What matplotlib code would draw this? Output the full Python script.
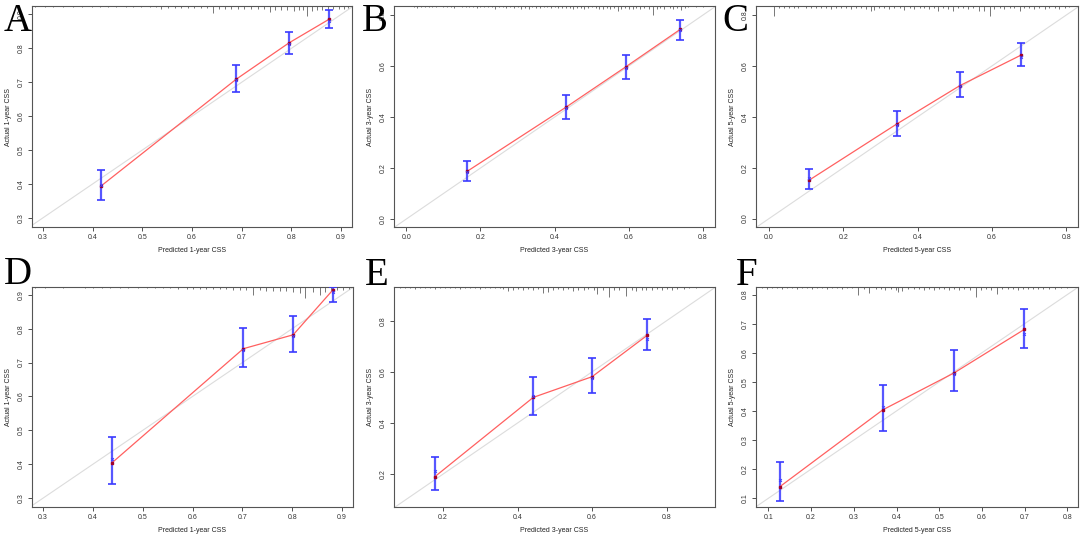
import matplotlib
matplotlib.use("Agg")
import matplotlib.pyplot as plt
import matplotlib.transforms as mtransforms

plt.rcParams['font.family'] = ['Liberation Sans', 'DejaVu Sans']

# ---- panel A: training, 1-year ----
a_pred = [0.417, 0.689, 0.795, 0.876]
a_obs = [0.394, 0.709, 0.816, 0.886]
a_lo = [0.352, 0.672, 0.783, 0.860]
a_hi = [0.440, 0.751, 0.849, 0.914]
a_corr = [0.398, 0.706, 0.812, 0.882]
a_rug_x = [0.285, 0.305, 0.321, 0.341, 0.361, 0.378, 0.398, 0.415, 0.431, 0.448, 0.468,
           0.481, 0.498, 0.515, 0.528, 0.537, 0.551, 0.565, 0.578, 0.591, 0.605, 0.618,
           0.630, 0.642, 0.655, 0.667, 0.678, 0.692, 0.705, 0.718, 0.732, 0.745, 0.756,
           0.768, 0.780, 0.792, 0.805, 0.815, 0.824, 0.832, 0.842, 0.852, 0.862, 0.874,
           0.884, 0.895, 0.906, 0.914]
a_rug_len = [1, 1, 1, 1, 1, 1, 1, 1, 1, 1, 1,
             1, 1, 1, 1, 3, 1.5, 1.5, 1.5, 1.5, 2, 2,
             2, 7, 2.5, 3, 3, 3, 3, 3, 3, 3, 6,
             4, 4, 4, 5, 4, 4, 10, 5, 4, 4, 4,
             3, 3, 3, 2]

# ---- panel B: training, 3-year ----
b_pred = [0.164, 0.430, 0.591, 0.738]
b_obs = [0.187, 0.438, 0.596, 0.743]
b_lo = [0.150, 0.392, 0.550, 0.703]
b_hi = [0.229, 0.488, 0.642, 0.782]
b_corr = [0.184, 0.436, 0.594, 0.740]
b_rug_x = [0.02, 0.03, 0.04, 0.05, 0.06, 0.07, 0.08, 0.10, 0.11, 0.12, 0.13, 0.15, 0.16,
           0.17, 0.18, 0.19, 0.20, 0.21, 0.22, 0.23, 0.24, 0.25, 0.26, 0.27, 0.28, 0.29,
           0.30, 0.31, 0.32, 0.33, 0.34, 0.35, 0.36, 0.37, 0.38, 0.39, 0.40, 0.41, 0.42,
           0.43, 0.44, 0.45, 0.46, 0.47, 0.48, 0.49, 0.50, 0.51, 0.52, 0.53, 0.54, 0.55,
           0.56, 0.57, 0.58, 0.59, 0.60, 0.61, 0.62, 0.63, 0.64, 0.655, 0.665, 0.675,
           0.685, 0.695, 0.71, 0.72, 0.73, 0.74, 0.75, 0.76, 0.78, 0.80]
b_rug_len = [1, 1.5, 1, 1, 1, 1, 1, 1, 1, 1, 1.5, 1, 1,
             1, 1, 1.5, 1, 1, 1, 1, 3, 1, 1, 1.5, 1, 2,
             1, 3, 2, 3, 1, 2, 1.5, 1, 1, 1.5, 1, 2, 1.5,
             2, 1.5, 3, 2, 2, 3, 2, 1, 2, 3, 3, 2, 3,
             2, 5, 3, 2, 3, 3, 2, 3, 2, 3, 9, 3,
             2, 3, 2, 3, 1.5, 4, 2, 1, 1, 1]

# ---- panel C: training, 5-year ----
c_pred = [0.108, 0.343, 0.513, 0.679]
c_obs = [0.151, 0.371, 0.522, 0.643]
c_lo = [0.117, 0.324, 0.478, 0.598]
c_hi = [0.193, 0.424, 0.576, 0.690]
c_corr = [0.158, 0.368, 0.519, 0.633]
c_rug_x = [0.014, 0.028, 0.041, 0.055, 0.068, 0.077, 0.100, 0.113, 0.126, 0.140, 0.153,
           0.167, 0.180, 0.194, 0.207, 0.221, 0.234, 0.248, 0.261, 0.274, 0.283, 0.297,
           0.310, 0.324, 0.337, 0.351, 0.364, 0.378, 0.391, 0.405, 0.418, 0.431, 0.445,
           0.454, 0.467, 0.481, 0.494, 0.508, 0.521, 0.535, 0.548, 0.566, 0.579, 0.593,
           0.606, 0.620, 0.633, 0.647, 0.660, 0.674, 0.687, 0.700, 0.714, 0.727, 0.741,
           0.754, 0.768, 0.781, 0.795, 0.808]
c_rug_len = [10, 2, 2, 2, 2, 2, 2, 2, 2, 2, 2,
             3, 2, 2, 2, 3, 2, 2, 3, 5, 4, 2,
             2, 3, 2, 2, 4, 2, 3, 2, 2, 3, 2,
             5, 2, 3, 5, 2, 2, 3, 2, 5, 5, 10,
             3, 2, 3, 2, 2, 5, 2, 2, 3, 2, 3,
             2, 2, 3, 2, 1]

# ---- panel D: validation, 1-year ----
d_pred = [0.439, 0.702, 0.802, 0.882]
d_obs = [0.405, 0.741, 0.782, 0.915]
d_lo = [0.341, 0.686, 0.731, 0.880]
d_hi = [0.480, 0.801, 0.838, 0.922]
d_corr = [0.416, 0.738, 0.779, 0.907]
d_rug_x = [0.285, 0.305, 0.341, 0.385, 0.401, 0.418, 0.435, 0.455, 0.471, 0.491, 0.508,
           0.525, 0.541, 0.555, 0.571, 0.588, 0.601, 0.615, 0.628, 0.641, 0.655, 0.668,
           0.681, 0.695, 0.708, 0.722, 0.735, 0.748, 0.762, 0.775, 0.788, 0.802, 0.815,
           0.826, 0.842, 0.855, 0.866, 0.878, 0.890, 0.902, 0.913]
d_rug_len = [1, 1, 1, 1, 1, 1, 1, 1, 1, 1, 1,
             1, 1, 1, 1.5, 2, 1.5, 2, 2, 2, 2, 2,
             3, 3, 3, 8, 3, 4, 4, 4, 4, 5, 6,
             11, 5, 8, 5, 4, 3, 3, 2]

# ---- panel E: validation, 3-year ----
e_pred = [0.178, 0.442, 0.600, 0.748]
e_obs = [0.190, 0.500, 0.581, 0.743]
e_lo = [0.137, 0.430, 0.518, 0.687]
e_hi = [0.265, 0.578, 0.653, 0.807]
e_corr = [0.212, 0.505, 0.575, 0.730]
e_rug_x = [0.084, 0.097, 0.111, 0.124, 0.138, 0.151, 0.164, 0.178, 0.191, 0.205, 0.218,
           0.232, 0.245, 0.258, 0.272, 0.285, 0.299, 0.312, 0.326, 0.339, 0.352, 0.360,
           0.375, 0.388, 0.401, 0.415, 0.428, 0.442, 0.455, 0.469, 0.482, 0.496, 0.509,
           0.523, 0.536, 0.550, 0.563, 0.577, 0.590, 0.604, 0.614, 0.628, 0.646, 0.660,
           0.673, 0.692, 0.706, 0.719, 0.733, 0.746, 0.760, 0.773, 0.787, 0.800, 0.814,
           0.827, 0.846, 0.860, 0.878]
e_rug_len = [1, 1, 1, 1.5, 1, 1, 1, 1.5, 1, 1, 1,
             1, 1.5, 1, 1, 1, 1.5, 1, 1, 1, 1, 1.5,
             4, 3, 2, 3, 2, 3, 2, 6, 5, 3, 2,
             3, 2, 4, 3, 3, 2, 3, 7, 3, 10, 3,
             3, 9, 3, 4, 3, 3, 3, 2, 3, 2, 3,
             2, 1.5, 1, 1]

# ---- panel F: validation, 5-year ----
f_pred = [0.127, 0.368, 0.534, 0.699]
f_obs = [0.140, 0.404, 0.530, 0.680]
f_lo = [0.089, 0.332, 0.467, 0.616]
f_hi = [0.226, 0.490, 0.610, 0.752]
f_corr = [0.163, 0.412, 0.528, 0.666]
f_rug_x = [0.085, 0.096, 0.108, 0.120, 0.132, 0.143, 0.155, 0.167, 0.179, 0.190, 0.202,
           0.214, 0.226, 0.237, 0.249, 0.261, 0.273, 0.284, 0.296, 0.310, 0.323, 0.336,
           0.351, 0.363, 0.374, 0.386, 0.398, 0.404, 0.414, 0.426, 0.440, 0.452, 0.464,
           0.476, 0.488, 0.500, 0.511, 0.523, 0.535, 0.547, 0.559, 0.572, 0.586, 0.598,
           0.610, 0.622, 0.635, 0.647, 0.660, 0.672, 0.684, 0.696, 0.708, 0.720, 0.732,
           0.744, 0.756, 0.770, 0.786, 0.800]
f_rug_len = [1, 1.5, 1, 1, 1.5, 1, 1, 1.5, 1, 1, 1.5,
             1, 1, 1.5, 1, 1, 1.5, 1, 1, 8, 2, 6,
             2, 2, 3, 2, 3, 5, 4, 2, 2, 2, 3,
             2, 3, 2, 2, 3, 2, 3, 2, 3, 10, 3,
             2, 3, 7, 2, 2, 2, 3, 2, 2, 2, 2,
             1.5, 1.5, 1.5, 1, 1]

panels = [
    dict(tag='A', pred=a_pred, obs=a_obs, lo=a_lo, hi=a_hi, corr=a_corr,
         rug_x=a_rug_x, rug_len=a_rug_len, lim=(0.278, 0.922), ylim=(0.273, 0.925),
         xt=[0.3, 0.4, 0.5, 0.6, 0.7, 0.8, 0.9], yt=[0.3, 0.4, 0.5, 0.6, 0.7, 0.8, 0.9],
         xlab='Predicted 1-year CSS', ylab='Actual 1-year CSS'),
    dict(tag='B', pred=b_pred, obs=b_obs, lo=b_lo, hi=b_hi, corr=b_corr,
         rug_x=b_rug_x, rug_len=b_rug_len, lim=(-0.033, 0.832), ylim=(-0.031, 0.835),
         xt=[0.0, 0.2, 0.4, 0.6, 0.8], yt=[0.0, 0.2, 0.4, 0.6, 0.8],
         xlab='Predicted 3-year CSS', ylab='Actual 3-year CSS'),
    dict(tag='C', pred=c_pred, obs=c_obs, lo=c_lo, hi=c_hi, corr=c_corr,
         rug_x=c_rug_x, rug_len=c_rug_len, lim=(-0.035, 0.831), ylim=(-0.033, 0.835),
         xt=[0.0, 0.2, 0.4, 0.6, 0.8], yt=[0.0, 0.2, 0.4, 0.6, 0.8],
         xlab='Predicted 5-year CSS', ylab='Actual 5-year CSS'),
    dict(tag='D', pred=d_pred, obs=d_obs, lo=d_lo, hi=d_hi, corr=d_corr,
         rug_x=d_rug_x, rug_len=d_rug_len, lim=(0.278, 0.922), ylim=(0.274, 0.923),
         xt=[0.3, 0.4, 0.5, 0.6, 0.7, 0.8, 0.9], yt=[0.3, 0.4, 0.5, 0.6, 0.7, 0.8, 0.9],
         xlab='Predicted 1-year CSS', ylab='Actual 1-year CSS'),
    dict(tag='E', pred=e_pred, obs=e_obs, lo=e_lo, hi=e_hi, corr=e_corr,
         rug_x=e_rug_x, rug_len=e_rug_len, lim=(0.068, 0.930), ylim=(0.071, 0.932),
         xt=[0.2, 0.4, 0.6, 0.8], yt=[0.2, 0.4, 0.6, 0.8],
         xlab='Predicted 3-year CSS', ylab='Actual 3-year CSS'),
    dict(tag='F', pred=f_pred, obs=f_obs, lo=f_lo, hi=f_hi, corr=f_corr,
         rug_x=f_rug_x, rug_len=f_rug_len, lim=(0.071, 0.825), ylim=(0.070, 0.826),
         xt=[0.1, 0.2, 0.3, 0.4, 0.5, 0.6, 0.7, 0.8],
         yt=[0.1, 0.2, 0.3, 0.4, 0.5, 0.6, 0.7, 0.8],
         xlab='Predicted 5-year CSS', ylab='Actual 5-year CSS'),
]

W, H = 1084, 538
fig = plt.figure(figsize=(W / 100, H / 100), dpi=100)

# axes boxes in pixels: left, top, right, bottom
boxes = [(32, 6, 352, 227), (394, 6, 715, 227), (756, 6, 1078, 227),
         (32, 287, 353, 507), (394, 287, 715, 507), (756, 287, 1078, 507)]
# panel letter positions (x, baseline) in pixels
tags_at = [(4, 31), (362, 31), (722, 31), (4, 284), (365, 285), (736, 285)]

for p, (l, t, r, b), (tx, ty) in zip(panels, boxes, tags_at):
    ax = fig.add_axes([l / W, (H - b) / H, (r - l) / W, (b - t) / H])
    ax.set_xlim(p['lim'])
    ax.set_ylim(p['ylim'])

    # ideal line
    ax.axline((0, 0), (1, 1), color='#dcdcdc', lw=0.8, zorder=1)

    # rug of predicted values hanging from the top
    trans = mtransforms.blended_transform_factory(ax.transData, ax.transAxes)
    axh = b - t
    ax.vlines(p['rug_x'], [1 - n / axh for n in p['rug_len']], 1.0,
              transform=trans, color='#777777', lw=0.7, zorder=2)

    # error bars
    yerr = [[o - lo for o, lo in zip(p['obs'], p['lo'])],
            [hi - o for o, hi in zip(p['obs'], p['hi'])]]
    ax.errorbar(p['pred'], p['obs'], yerr=yerr, fmt='none', ecolor='#3a3aff',
                elinewidth=1.6, capsize=3, capthick=1.4, alpha=0.85, zorder=3)

    # observed line + points
    ax.plot(p['pred'], p['obs'], color='#ff6060', lw=0.9, zorder=4)
    ax.plot(p['pred'], p['obs'], ls='none', marker='s', ms=1.6, color='#a0002a', zorder=5)
    ax.plot(p['pred'], p['corr'], ls='none', marker='x', ms=2.0, mew=0.7,
            color='#4040ff', zorder=5)

    ax.set_xticks(p['xt'])
    ax.set_xticklabels(['%.1f' % v for v in p['xt']])
    ax.set_yticks(p['yt'])
    ax.set_yticklabels(['%.1f' % v for v in p['yt']], rotation=90, va='center')
    ax.tick_params(labelsize=5, length=3, width=0.6, pad=2, colors='#333333')
    ax.set_xlabel(p['xlab'], fontsize=5, labelpad=4, color='#222222')
    ax.set_ylabel(p['ylab'], fontsize=5, labelpad=4, color='#222222')
    for s in ax.spines.values():
        s.set_color('#555555')
        s.set_linewidth(0.8)

    fig.text(tx / W, (H - ty) / H, p['tag'], fontsize=28, va='baseline', ha='left',
             family=['Liberation Serif', 'DejaVu Serif'], color='black')

fig.savefig('out.png', dpi=100)
